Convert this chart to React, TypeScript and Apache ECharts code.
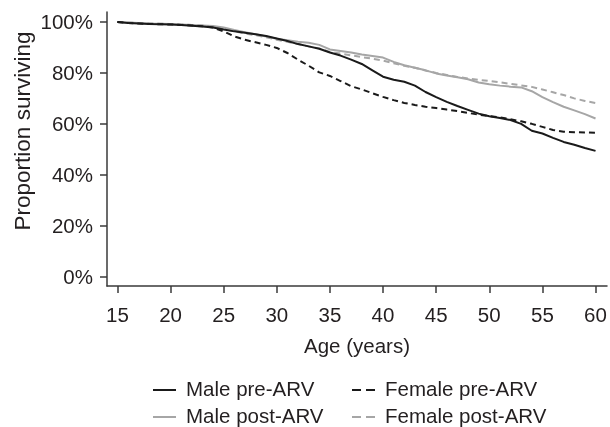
import React, { useEffect, useRef } from "react";
import * as echarts from "echarts";

const ages = [15, 16, 17, 18, 19, 20, 21, 22, 23, 24, 25, 26, 27, 28, 29, 30, 31, 32, 33, 34, 35, 36, 37, 38, 39, 40, 41, 42, 43, 44, 45, 46, 47, 48, 49, 50, 51, 52, 53, 54, 55, 56, 57, 58, 59, 60];

const malePre = [100, 99.6, 99.4, 99.2, 99.1, 99.0, 98.8, 98.5, 98.2, 97.8, 97.0, 96.3, 95.8, 95.2, 94.5, 93.5, 92.5, 91.3, 90.4, 89.5, 88.0, 86.8, 85.2, 83.5, 81.0, 78.5, 77.3, 76.5, 75.0, 72.5, 70.5, 68.6, 67.0, 65.5, 64.0, 63.0, 62.3, 61.5, 60.0, 57.3, 56.2, 54.5, 52.9, 51.8, 50.5, 49.4];

const femalePre = [100, 99.6, 99.4, 99.2, 99.1, 99.0, 98.8, 98.6, 98.3, 97.8, 96.3, 94.3, 93.0, 92.0, 91.0, 89.8, 87.8, 85.2, 82.8, 80.2, 78.8, 76.8, 74.8, 73.5, 72.0, 70.6, 69.3, 68.2, 67.4, 66.7, 66.2, 65.6, 65.0, 64.3, 63.6, 63.0, 62.5, 61.8, 61.0, 60.0, 58.8, 57.6, 56.9, 56.7, 56.6, 56.5];

const malePost = [100, 99.8, 99.6, 99.4, 99.3, 99.2, 99.0, 98.8, 98.6, 98.4, 97.8, 96.8, 96.0, 95.2, 94.3, 93.4, 92.8, 92.2, 91.8, 91.0, 89.2, 88.6, 88.0, 87.2, 86.6, 86.0, 84.3, 83.0, 82.0, 81.0, 79.8, 79.0, 78.3, 77.5, 76.2, 75.5, 75.0, 74.6, 74.3, 72.8, 70.5, 68.5, 66.7, 65.3, 63.8, 62.1];

const femalePost = [100, 99.8, 99.6, 99.5, 99.3, 99.2, 99.0, 98.8, 98.6, 98.2, 97.4, 96.3, 95.5, 94.8, 94.0, 93.0, 92.2, 91.3, 90.4, 89.6, 88.2, 87.6, 86.9, 86.2, 85.6, 84.8, 83.8, 82.8, 82.0, 80.9, 80.0, 79.2, 78.4, 77.8, 77.3, 76.8, 76.3, 75.7, 75.1, 74.5, 73.5, 72.4, 71.3, 70.0, 69.0, 68.2];

const xTicks = [15, 20, 25, 30, 35, 40, 45, 50, 55, 60];
const yTicks = [0, 20, 40, 60, 80, 100];
const legendNames = ["Male pre-ARV", "Female pre-ARV", "Male post-ARV", "Female post-ARV"];

export default function App() {
  const ref = useRef<HTMLDivElement>(null);

  useEffect(() => {
    const chart = echarts.init(ref.current as HTMLDivElement, null, { renderer: "svg" });
    const font = "'Liberation Sans', Arial, Helvetica, sans-serif";
    const fs = 20.5;
    const textColor = "#231f20";
    const axisColor = "#3a3a3a";
    const dark = "#1a1a1a";
    const gray = "#a6a6a6";
    const dash = [6, 4];

    const styles: Record<string, { color: string; dashed: boolean }> = {
      "Male pre-ARV": { color: dark, dashed: false },
      "Female pre-ARV": { color: dark, dashed: true },
      "Male post-ARV": { color: gray, dashed: false },
      "Female post-ARV": { color: gray, dashed: true },
    };

    const mk = (name: string, vals: number[]) => ({
      name,
      type: "line",
      data: ages.map((a, i) => [a, vals[i]]),
      symbol: "none",
      showSymbol: false,
      lineStyle: { color: styles[name].color, width: 2, type: styles[name].dashed ? dash : "solid" },
      itemStyle: { color: styles[name].color },
      emphasis: { disabled: true },
    });

    // legend built as graphic: 2 columns x 2 rows
    const colX = [153, 352];
    const rowText = [388, 415];
    const rowLine = [390, 417];
    const legendGraphics: any[] = [];
    legendNames.forEach((name, i) => {
      const cx = colX[i % 2];
      const r = Math.floor(i / 2);
      const st = styles[name];
      legendGraphics.push({
        type: "line",
        shape: { x1: cx, y1: rowLine[r], x2: cx + 23, y2: rowLine[r] },
        style: { stroke: st.color, lineWidth: 2, lineDash: st.dashed ? [9, 5] : null },
        silent: true,
      });
      legendGraphics.push({
        type: "text",
        x: cx + 33,
        y: rowText[r],
        style: {
          text: name,
          font: `${fs}px ${font}`,
          fill: textColor,
          align: "left",
          verticalAlign: "middle",
        },
        silent: true,
      });
    });

    chart.setOption({
      animation: false,
      grid: { left: 107, right: 3, top: 12, bottom: 141, containLabel: false, outerBoundsMode: "none" },
      xAxis: {
        type: "value",
        min: 14.02,
        max: 61.08,
        name: "Age (years)",
        nameLocation: "middle",
        nameGap: 49,
        nameTextStyle: { fontSize: fs, fontFamily: font, color: textColor },
        axisLine: { onZero: false, lineStyle: { color: axisColor, width: 1.5 } },
        axisTick: { customValues: xTicks, length: 7, lineStyle: { color: axisColor, width: 1.5 } },
        axisLabel: { customValues: xTicks, margin: 18, fontSize: fs, fontFamily: font, color: textColor },
        splitLine: { show: false },
      },
      yAxis: {
        type: "value",
        min: -3.65,
        max: 103.9,
        axisLine: { show: true, onZero: false, lineStyle: { color: axisColor, width: 1.5 } },
        axisTick: { show: true, customValues: yTicks, length: 7, lineStyle: { color: axisColor, width: 1.5 } },
        axisLabel: { customValues: yTicks, margin: 14, fontSize: fs, fontFamily: font, color: textColor, formatter: "{value}%" },
        splitLine: { show: false },
      },
      graphic: [
        {
          type: "text",
          x: 22,
          y: 131,
          rotation: Math.PI / 2,
          style: {
            text: "Proportion surviving",
            font: `22.5px ${font}`,
            fill: textColor,
            align: "center",
            verticalAlign: "middle",
          },
        },
        ...legendGraphics,
      ],
      series: [
        mk("Male post-ARV", malePost),
        mk("Female post-ARV", femalePost),
        mk("Female pre-ARV", femalePre),
        mk("Male pre-ARV", malePre),
      ],
    });

    return () => chart.dispose();
  }, []);

  return <div ref={ref} style={{ position: "fixed", left: 0, top: 0, width: 610, height: 427 }} />;
}
